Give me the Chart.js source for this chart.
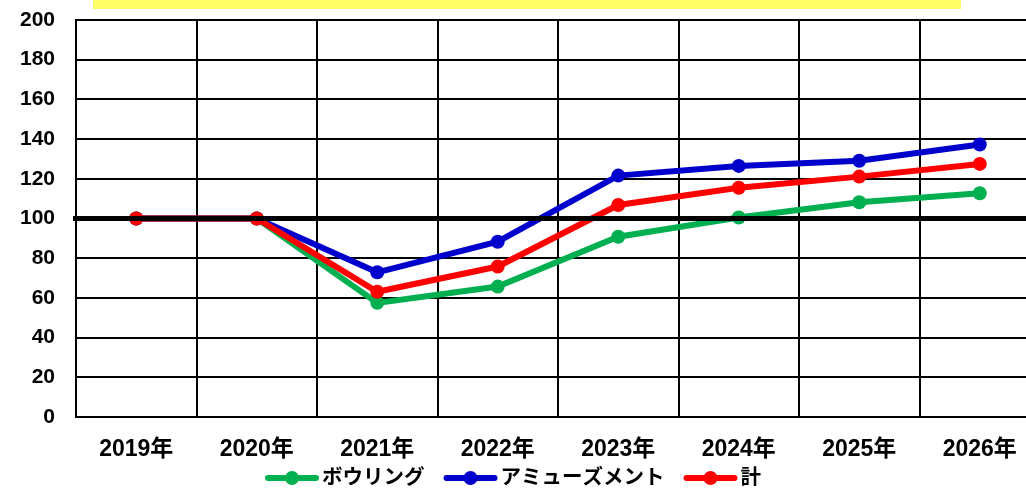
<!DOCTYPE html>
<html>
<head>
<meta charset="utf-8">
<script src="https://cdn.jsdelivr.net/npm/chart.js@4"></script>
<style>
html,body{margin:0;padding:0;background:#fff;overflow:hidden;width:1026px;height:489px;}
#wrap{position:absolute;left:0;top:0;width:1060px;height:489px;}
</style>
</head>
<body>
<div id="wrap"><canvas id="c" width="1060" height="489"></canvas></div>
<script>
const categories = ['2019年','2020年','2021年','2022年','2023年','2024年','2025年','2026年'];
const seriesNames = ['ボウリング','アミューズメント','計'];
const bowling   = [100, 100, 57.5, 65.7, 90.8, 100.5, 108.2, 112.7];
const amusement = [100, 100, 72.9, 88.3, 121.6, 126.5, 129.1, 137.3];
const total     = [100, 100, 63.1, 75.8, 106.8, 115.5, 121.1, 127.5];
const yTicks = [0, 20, 40, 60, 80, 100, 120, 140, 160, 180, 200];
const baseline = 100;
const colors = ['#00B050', '#0000CC', '#FF0000'];

const FONT = "'Liberation Sans', 'Noto Sans CJK JP', Arial, sans-serif";
const LEGEND_FONT = "bold 20.5px 'Liberation Sans', 'Noto Sans CJK JP', sans-serif";

const decor = {
  id: 'decor',
  beforeDraw(chart) {
    const ctx = chart.ctx;
    ctx.save();
    ctx.fillStyle = '#FFFF66';
    ctx.fillRect(93, 0, 868, 9);
    ctx.restore();
  },
  afterDatasetsDraw(chart) {
    const ctx = chart.ctx, y = chart.scales.y.getPixelForValue(baseline);
    ctx.save();
    ctx.strokeStyle = '#000'; ctx.lineWidth = 5;
    ctx.beginPath(); ctx.moveTo(chart.chartArea.left - 3, y); ctx.lineTo(chart.chartArea.right, y); ctx.stroke();
    ctx.restore();
  },
  afterDraw(chart) {
    // legend: line + dot marker followed by label text
    const ctx = chart.ctx;
    const markW = 54, gapText = 3, gapItem = 19, cy = 478, centerX = 513;
    ctx.save();
    ctx.font = LEGEND_FONT;
    const items = chart.data.datasets.map(ds => ({ ds, w: ctx.measureText(ds.label).width }));
    const totalW = items.reduce((a, it) => a + markW + gapText + it.w, 0) + gapItem * (items.length - 1);
    let x = centerX - totalW / 2;
    items.forEach(it => {
      const c = it.ds.borderColor;
      ctx.strokeStyle = c; ctx.lineWidth = 6; ctx.lineCap = 'round';
      ctx.beginPath(); ctx.moveTo(x + 3, cy); ctx.lineTo(x + markW - 3, cy); ctx.stroke();
      ctx.fillStyle = c; ctx.beginPath(); ctx.arc(x + markW / 2, cy, 7, 0, Math.PI * 2); ctx.fill();
      x += markW + gapText;
      ctx.fillStyle = '#000'; ctx.textBaseline = 'middle'; ctx.textAlign = 'left';
      ctx.fillText(it.ds.label, x, cy);
      x += it.w + gapItem;
    });
    ctx.restore();
  }
};

const datasets = [bowling, amusement, total].map((d, i) => ({
  label: seriesNames[i],
  data: d,
  borderColor: colors[i],
  backgroundColor: colors[i],
  pointBackgroundColor: colors[i],
  pointBorderColor: colors[i],
  borderWidth: 6,
  pointRadius: 7,
  pointBorderWidth: 0,
  tension: 0,
  order: 3 - i
}));

new Chart(document.getElementById('c'), {
  type: 'line',
  data: { labels: categories, datasets },
  plugins: [decor],
  options: {
    responsive: false,
    animation: false,
    layout: { padding: { left: 0, right: 20, top: 20, bottom: 0 } },
    plugins: {
      tooltip: { enabled: false },
      legend: { display: false }
    },
    scales: {
      x: {
        offset: true,
        grid: { color: '#000', lineWidth: 2, drawTicks: false, offset: true },
        border: { color: '#000', width: 2 },
        ticks: { color: '#000', padding: 19, font: { family: FONT, size: 23, weight: 'bold' }, maxRotation: 0 },
        afterFit(s) { s.height = 72; s.paddingLeft = 0; s.paddingRight = 0; }
      },
      y: {
        min: 0, max: 200,
        afterBuildTicks(s) { s.ticks = yTicks.map(v => ({ value: v })); },
        grid: { color: '#000', lineWidth: 2, drawTicks: false },
        border: { color: '#000', width: 2 },
        ticks: { color: '#000', padding: 21, font: { family: FONT, size: 21, weight: 'bold' } },
        afterFit(s) { s.width = 76; s.paddingTop = 0; s.paddingBottom = 0; }
      }
    }
  }
});
</script>
</body>
</html>
